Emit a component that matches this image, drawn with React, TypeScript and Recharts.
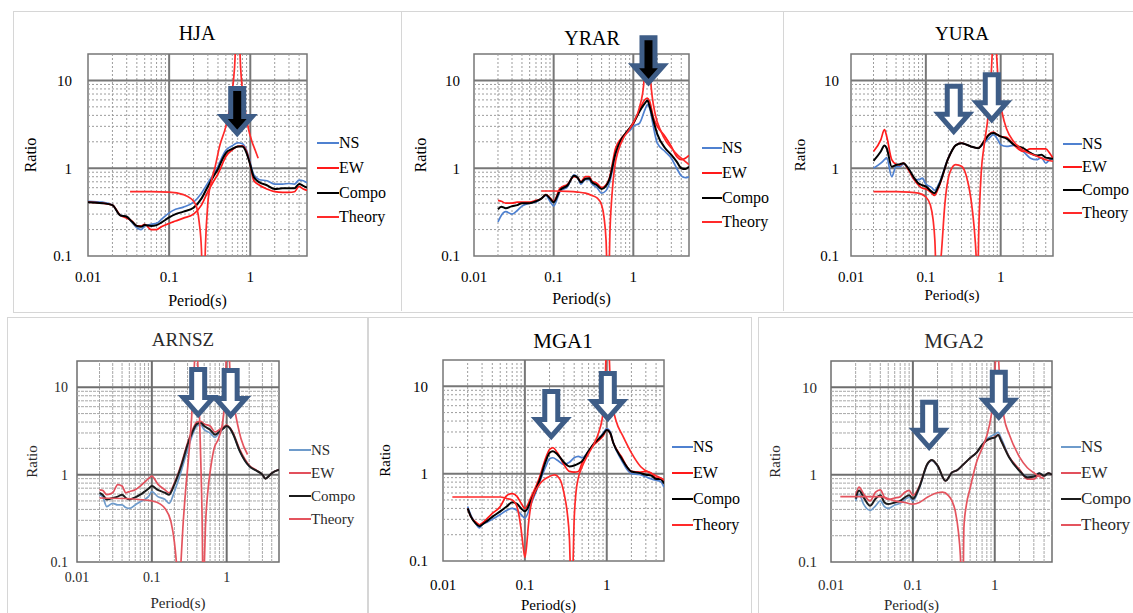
import React from 'react';
import { LineChart, Line, XAxis, YAxis, Legend, ReferenceLine, ReferenceArea, ReferenceDot } from 'recharts';

const PAGE_W = 1133;
const PAGE_H = 613;
const X_AXIS_H = 45;
const FONT = 'Liberation Serif';
const ARROW_BLUE = '#3E5D87';

// axis values shared by all six panels (log-log)
const xDomain = [0.01, 5];
const yDomain = [0.1, 20];
const xTicks = [0.01, 0.1, 1];
const yTicks = [0.1, 1, 10];
const xMajor = [0.1, 1];
const yMajor = [1, 10];
const xMinor = [0.02, 0.03, 0.04, 0.05, 0.06, 0.07, 0.08, 0.09, 0.2, 0.3, 0.4, 0.5, 0.6, 0.7, 0.8, 0.9, 2, 3, 4];
const yMinor = [0.2, 0.3, 0.4, 0.5, 0.6, 0.7, 0.8, 0.9, 2, 3, 4, 5, 6, 7, 8, 9];
const seriesNames = ['NS', 'EW', 'Compo', 'Theory'];

// ---- HJA ----
const hjaPeriod = [0.01, 0.015, 0.02, 0.025, 0.03, 0.035, 0.04, 0.045, 0.05, 0.06, 0.07, 0.08, 0.1, 0.12, 0.15, 0.2, 0.25, 0.3, 0.35, 0.4, 0.45, 0.5, 0.6, 0.7, 0.8, 0.9, 1.0, 1.1, 1.3, 1.6, 2, 2.5, 3, 3.5, 4, 4.5, 5];
const hjaNS = [0.42, 0.41, 0.38, 0.29, 0.28, 0.24, 0.21, 0.2, 0.22, 0.23, 0.235, 0.26, 0.31, 0.34, 0.36, 0.41, 0.52, 0.68, 0.85, 1.05, 1.35, 1.6, 1.8, 1.95, 1.9, 1.6, 1.15, 0.85, 0.74, 0.72, 0.66, 0.66, 0.67, 0.66, 0.73, 0.72, 0.68];
const hjaEW = [0.41, 0.4, 0.38, 0.29, 0.27, 0.25, 0.22, 0.22, 0.23, 0.2, 0.2, 0.215, 0.235, 0.25, 0.27, 0.3, 0.38, 0.54, 0.7, 0.86, 1.1, 1.36, 1.62, 1.77, 1.8, 1.55, 1.09, 0.73, 0.64, 0.58, 0.54, 0.53, 0.53, 0.54, 0.62, 0.58, 0.56];
const hjaCompo = [0.41, 0.4, 0.38, 0.29, 0.28, 0.245, 0.22, 0.215, 0.225, 0.22, 0.225, 0.24, 0.275, 0.3, 0.32, 0.355, 0.45, 0.62, 0.8, 0.98, 1.25, 1.49, 1.66, 1.77, 1.77, 1.49, 1.09, 0.8, 0.69, 0.64, 0.58, 0.59, 0.59, 0.59, 0.66, 0.63, 0.6];
const hjaTheoryPeriod = [0.033, 0.06, 0.1, 0.15, 0.18, 0.2, 0.22, 0.235, 0.25, 0.26, 0.27, 0.28, 0.3, 0.33, 0.37, 0.42, 0.5, 0.58, 0.64, 0.68, 0.72, 0.76, 0.85, 0.95, 1.05, 1.15, 1.25];
const hjaTheory = [0.54, 0.54, 0.535, 0.5, 0.46, 0.42, 0.35, 0.24, 0.12, 0.04, 0.04, 0.13, 0.4, 0.7, 1.05, 1.8, 3.0, 6, 14, 40, 40, 14, 5, 2.8, 2.0, 1.6, 1.3];
const hjaArrows = [{ x: 0.69, y: 2.3 }];

// ---- YRAR ----
const yrarPeriod = [0.02, 0.022, 0.025, 0.03, 0.035, 0.04, 0.05, 0.06, 0.07, 0.08, 0.09, 0.1, 0.12, 0.15, 0.18, 0.2, 0.22, 0.25, 0.28, 0.3, 0.35, 0.4, 0.45, 0.5, 0.6, 0.7, 0.8, 0.9, 1, 1.2, 1.4, 1.5, 1.6, 1.8, 2, 2.5, 3, 3.5, 4, 4.5, 5];
const yrarNS = [0.245, 0.29, 0.32, 0.3, 0.33, 0.37, 0.4, 0.41, 0.45, 0.49, 0.42, 0.37, 0.54, 0.62, 0.84, 0.78, 0.66, 0.74, 0.74, 0.67, 0.6, 0.52, 0.55, 0.67, 1.42, 2.02, 2.45, 2.67, 3.0, 3.27, 4.65, 5.3, 4.86, 2.87, 1.93, 1.55, 1.3, 1.0, 0.82, 0.78, 0.8];
const yrarEW = [0.43, 0.42, 0.4, 0.4, 0.41, 0.41, 0.41, 0.43, 0.45, 0.5, 0.46, 0.42, 0.59, 0.66, 0.8, 0.78, 0.7, 0.8, 0.8, 0.72, 0.67, 0.6, 0.64, 0.77, 1.7, 2.17, 2.5, 2.82, 3.2, 4.65, 6.06, 6.3, 5.8, 3.7, 3.0, 2.3, 1.77, 1.36, 1.25, 1.3, 1.4];
const yrarCompo = [0.34, 0.365, 0.35, 0.37, 0.38, 0.4, 0.4, 0.42, 0.45, 0.5, 0.45, 0.41, 0.56, 0.64, 0.82, 0.78, 0.69, 0.76, 0.77, 0.7, 0.64, 0.58, 0.62, 0.74, 1.49, 2.1, 2.5, 2.87, 3.27, 4.46, 5.5, 5.9, 5.1, 3.4, 2.45, 1.7, 1.42, 1.19, 1.0, 0.98, 1.04];
const yrarTheoryPeriod = [0.07, 0.1, 0.15, 0.2, 0.25, 0.3, 0.35, 0.4, 0.43, 0.455, 0.475, 0.49, 0.51, 0.54, 0.58, 0.65, 0.75, 0.85, 1.0, 1.2, 1.35, 1.45, 1.55, 1.65, 1.9, 2.2, 2.6, 3, 3.5, 4, 5];
const yrarTheory = [0.55, 0.55, 0.545, 0.535, 0.52, 0.49, 0.46, 0.38, 0.27, 0.15, 0.05, 0.05, 0.2, 0.5, 1.0, 1.6, 2.2, 2.6, 3.3, 5, 9, 30, 30, 10, 4, 2.7, 2.0, 1.7, 1.45, 1.3, 1.1];
const yrarArrows = [{ x: 1.55, y: 8.7 }];

// ---- YURA ----
const yuraPeriod = [0.02, 0.025, 0.028, 0.03, 0.035, 0.04, 0.045, 0.05, 0.06, 0.07, 0.08, 0.09, 0.1, 0.12, 0.13, 0.15, 0.2, 0.25, 0.3, 0.35, 0.4, 0.5, 0.6, 0.7, 0.8, 0.9, 1, 1.2, 1.5, 2, 2.5, 3, 3.5, 4, 4.5, 5];
const yuraNS = [1.0, 1.14, 1.25, 1.32, 0.8, 1.04, 1.04, 1.11, 0.96, 0.74, 0.74, 0.77, 0.66, 0.6, 0.56, 0.67, 1.32, 1.82, 1.93, 1.85, 1.77, 1.69, 1.93, 2.2, 2.41, 2.17, 1.85, 1.77, 1.82, 1.55, 1.3, 1.25, 1.32, 1.14, 1.25, 1.28];
const yuraEW = [1.55, 2.1, 2.75, 2.3, 1.25, 1.11, 1.09, 1.14, 0.92, 0.74, 0.64, 0.59, 0.58, 0.52, 0.49, 0.62, 1.3, 1.82, 1.93, 1.85, 1.77, 1.69, 2.05, 2.45, 2.58, 2.41, 2.3, 2.25, 1.85, 1.55, 1.66, 1.66, 1.66, 1.66, 1.49, 1.3];
const yuraCompo = [1.21, 1.55, 1.82, 1.69, 1.04, 1.09, 1.11, 1.14, 0.96, 0.77, 0.67, 0.64, 0.62, 0.54, 0.52, 0.64, 1.3, 1.82, 1.93, 1.85, 1.77, 1.69, 2.02, 2.41, 2.52, 2.41, 2.3, 2.17, 1.85, 1.69, 1.49, 1.4, 1.42, 1.32, 1.3, 1.28];
const yuraTheoryPeriod = [0.02, 0.04, 0.06, 0.08, 0.1, 0.115, 0.125, 0.132, 0.138, 0.15, 0.16, 0.18, 0.21, 0.25, 0.3, 0.35, 0.4, 0.44, 0.47, 0.49, 0.51, 0.55, 0.6, 0.68, 0.74, 0.78, 0.82, 0.88, 0.95, 1.05, 1.2, 1.5, 2, 3, 4, 5];
const yuraTheory = [0.54, 0.54, 0.535, 0.52, 0.47, 0.38, 0.26, 0.15, 0.06, 0.06, 0.1, 0.4, 0.9, 1.1, 1.05, 0.8, 0.45, 0.22, 0.1, 0.04, 0.2, 0.9, 1.8, 4, 10, 25, 50, 20, 7, 4.2, 2.8, 2.0, 1.6, 1.38, 1.25, 1.2];
const yuraArrows = [{ x: 0.236, y: 2.43 }, { x: 0.76, y: 3.3 }];

// ---- ARNSZ ----
const arnszPeriod = [0.02, 0.022, 0.025, 0.03, 0.035, 0.04, 0.045, 0.05, 0.06, 0.07, 0.08, 0.09, 0.1, 0.12, 0.15, 0.17, 0.2, 0.25, 0.3, 0.35, 0.4, 0.45, 0.5, 0.6, 0.7, 0.8, 0.9, 1, 1.1, 1.2, 1.5, 2, 2.5, 3, 3.3, 3.5, 4, 5];
const arnszNS = [0.59, 0.56, 0.43, 0.47, 0.45, 0.45, 0.42, 0.41, 0.45, 0.49, 0.52, 0.56, 0.64, 0.56, 0.52, 0.47, 0.64, 1.14, 1.93, 2.87, 3.6, 3.7, 3.27, 3.0, 2.67, 3.05, 3.35, 3.6, 3.4, 3.0, 1.85, 1.25, 1.11, 1.0, 0.9, 0.93, 1.04, 1.14];
const arnszEW = [0.67, 0.66, 0.59, 0.62, 0.77, 0.74, 0.62, 0.64, 0.67, 0.74, 0.82, 0.9, 0.96, 0.78, 0.67, 0.62, 0.8, 1.36, 2.3, 3.27, 4.0, 4.07, 3.8, 3.6, 3.08, 3.27, 3.5, 3.7, 3.45, 3.08, 1.93, 1.28, 1.12, 1.0, 0.9, 0.93, 1.04, 1.14];
const arnszCompo = [0.62, 0.59, 0.52, 0.54, 0.56, 0.59, 0.54, 0.52, 0.55, 0.59, 0.64, 0.69, 0.74, 0.67, 0.62, 0.59, 0.77, 1.3, 2.2, 3.1, 3.8, 3.9, 3.6, 3.27, 2.87, 3.1, 3.37, 3.6, 3.4, 3.0, 1.85, 1.25, 1.11, 1.0, 0.9, 0.93, 1.04, 1.14];
const arnszTheoryPeriod = [0.02, 0.05, 0.1, 0.13, 0.15, 0.18, 0.2, 0.215, 0.23, 0.245, 0.26, 0.28, 0.31, 0.34, 0.37, 0.39, 0.41, 0.43, 0.45, 0.47, 0.485, 0.5, 0.52, 0.56, 0.62, 0.68, 0.78, 0.9, 0.96, 1.0, 1.06, 1.12, 1.27, 1.55, 1.9];
const arnszTheory = [0.54, 0.53, 0.5, 0.46, 0.41, 0.29, 0.17, 0.09, 0.04, 0.1, 0.25, 0.6, 1.6, 4.5, 18, 40, 20, 6, 1.5, 0.3, 0.04, 0.08, 0.25, 0.64, 1.3, 2.0, 2.6, 4.5, 9, 30, 30, 12, 5.8, 2.6, 1.7];
const arnszArrows = [{ x: 0.416, y: 4.5 }, { x: 1.13, y: 4.4 }];

// ---- MGA1 ----
const mga1Period = [0.02, 0.022, 0.025, 0.028, 0.03, 0.035, 0.04, 0.05, 0.06, 0.07, 0.08, 0.09, 0.1, 0.12, 0.15, 0.18, 0.2, 0.22, 0.25, 0.3, 0.35, 0.4, 0.45, 0.5, 0.6, 0.7, 0.8, 0.9, 1, 1.1, 1.2, 1.5, 2, 2.5, 3, 3.5, 4, 4.5, 5];
const mga1NS = [0.42, 0.33, 0.27, 0.24, 0.26, 0.28, 0.3, 0.34, 0.38, 0.4, 0.38, 0.34, 0.31, 0.46, 0.78, 1.21, 1.48, 1.52, 1.42, 1.27, 1.35, 1.52, 1.58, 1.52, 1.81, 2.22, 2.51, 2.89, 3.27, 3.0, 2.26, 1.45, 1.0, 0.98, 0.92, 0.87, 0.84, 0.82, 0.7];
const mga1EW = [0.4, 0.32, 0.28, 0.26, 0.27, 0.31, 0.35, 0.42, 0.56, 0.59, 0.55, 0.46, 0.4, 0.55, 0.89, 1.52, 1.89, 1.98, 1.73, 1.27, 1.06, 1.04, 1.06, 1.33, 1.81, 2.15, 2.4, 2.7, 3.16, 2.9, 2.26, 1.58, 1.06, 1.04, 1.06, 1.02, 0.89, 0.89, 0.84];
const mga1Compo = [0.4, 0.32, 0.27, 0.25, 0.26, 0.29, 0.32, 0.37, 0.42, 0.47, 0.45, 0.4, 0.37, 0.5, 0.82, 1.39, 1.73, 1.81, 1.66, 1.35, 1.21, 1.24, 1.3, 1.39, 1.81, 2.22, 2.51, 2.82, 3.16, 2.94, 2.26, 1.52, 1.06, 1.02, 0.97, 0.95, 0.87, 0.87, 0.77];
const mga1TheoryPeriod = [0.013, 0.03, 0.05, 0.06, 0.07, 0.08, 0.09, 0.095, 0.1, 0.105, 0.11, 0.12, 0.15, 0.2, 0.23, 0.27, 0.3, 0.33, 0.35, 0.365, 0.38, 0.4, 0.42, 0.45, 0.5, 0.6, 0.7, 0.8, 0.9, 0.95, 1.0, 1.05, 1.1, 1.2, 1.3, 1.57, 2, 2.6, 3.8, 5];
const mga1Theory = [0.54, 0.54, 0.54, 0.52, 0.5, 0.42, 0.23, 0.15, 0.11, 0.15, 0.25, 0.46, 0.75, 0.93, 0.97, 0.85, 0.6, 0.35, 0.18, 0.06, 0.06, 0.3, 0.6, 0.9, 1.2, 1.7, 2.2, 3, 5, 10, 30, 30, 12, 5.5, 4, 2.7, 1.73, 1.2, 0.97, 0.85];
const mga1Arrows = [{ x: 0.21, y: 2.46 }, { x: 1.03, y: 3.96 }];

// ---- MGA2 ----
const mga2Period = [0.02, 0.022, 0.025, 0.03, 0.035, 0.04, 0.045, 0.05, 0.06, 0.07, 0.08, 0.09, 0.1, 0.12, 0.15, 0.17, 0.2, 0.25, 0.3, 0.35, 0.4, 0.5, 0.6, 0.7, 0.8, 0.9, 1, 1.1, 1.2, 1.5, 2, 2.5, 3, 3.5, 4, 4.5, 5];
const mga2NS = [0.5, 0.6, 0.46, 0.39, 0.44, 0.5, 0.43, 0.41, 0.45, 0.47, 0.52, 0.55, 0.5, 0.7, 1.3, 1.45, 1.25, 0.85, 1.06, 1.13, 1.27, 1.55, 1.79, 2.2, 2.55, 2.75, 2.9, 3.05, 2.6, 1.6, 1.11, 0.95, 0.95, 1.04, 0.97, 1.04, 1.0];
const mga2EW = [0.58, 0.72, 0.6, 0.5, 0.63, 0.67, 0.55, 0.52, 0.54, 0.56, 0.63, 0.66, 0.58, 0.74, 1.32, 1.47, 1.27, 0.85, 1.06, 1.13, 1.27, 1.55, 1.79, 2.15, 2.45, 2.6, 2.7, 2.85, 2.43, 1.6, 1.15, 0.89, 0.89, 1.0, 0.97, 1.04, 1.0];
const mga2Compo = [0.53, 0.66, 0.55, 0.44, 0.53, 0.58, 0.48, 0.46, 0.48, 0.5, 0.55, 0.58, 0.53, 0.72, 1.32, 1.47, 1.27, 0.85, 1.06, 1.13, 1.27, 1.55, 1.79, 2.19, 2.48, 2.6, 2.65, 2.85, 2.43, 1.57, 1.11, 0.93, 0.95, 1.04, 0.97, 1.04, 1.0];
const mga2TheoryPeriod = [0.013, 0.04, 0.06, 0.08, 0.1, 0.12, 0.15, 0.2, 0.23, 0.27, 0.3, 0.33, 0.36, 0.38, 0.395, 0.41, 0.42, 0.45, 0.5, 0.6, 0.7, 0.8, 0.9, 0.97, 1.02, 1.08, 1.15, 1.3, 1.5, 2, 2.5, 3, 3.5, 4];
const mga2Theory = [0.56, 0.56, 0.5, 0.48, 0.46, 0.48, 0.55, 0.62, 0.63, 0.58, 0.5, 0.38, 0.22, 0.12, 0.05, 0.05, 0.25, 0.45, 0.7, 1.4, 2.0, 2.8, 4.6, 8, 20, 30, 12, 4.5, 2.9, 1.6, 1.2, 1.05, 0.95, 0.9];
const mga2Arrows = [{ x: 0.158, y: 1.9 }, { x: 1.12, y: 4.2 }];

const pts = (periods: number[], values: number[], key: string) =>
  periods.map((p, i) => ({ p, [key]: values[i] }));

const topStyle = { ns: '#4F81D0', ew: '#FF1A1A', compo: '#000000', theory: '#FF2A2A', text: '#000', minor: '#9C9C9C', major: '#777', dash: '2 2' };
const blurStyle = { ns: '#6E9BCB', ew: '#E2505C', compo: '#1C1C1C', theory: '#E4545E', text: '#2A2A2A', minor: '#A8A8A8', major: '#6E6E6E', dash: '3 1' };

const panels = [
  {
    title: 'HJA', titleX: 197, titleY: 33, titleSize: 20,
    plot: { left: 88, top: 54, right: 307, bottom: 256 },
    tickSize: 15, xTickGap: 15, yTickGap: 16, ratioX: 30, periodDx: 0, periodDy: 44, labelSize: 16,
    legend: { left: 317, top: 131, row: 24.7, line: 22, font: 16 },
    style: topStyle, fill: '#000',
    period: hjaPeriod, ns: hjaNS, ew: hjaEW, compo: hjaCompo, theoryPeriod: hjaTheoryPeriod, theory: hjaTheory, arrows: hjaArrows,
  },
  {
    title: 'YRAR', titleX: 592, titleY: 38, titleSize: 20,
    plot: { left: 474, top: 54, right: 689, bottom: 256 },
    tickSize: 15, xTickGap: 15, yTickGap: 14, ratioX: 420, periodDx: 0, periodDy: 42, labelSize: 16,
    legend: { left: 702, top: 136, row: 24.7, line: 20, font: 16 },
    style: topStyle, fill: '#000',
    period: yrarPeriod, ns: yrarNS, ew: yrarEW, compo: yrarCompo, theoryPeriod: yrarTheoryPeriod, theory: yrarTheory, arrows: yrarArrows,
  },
  {
    title: 'YURA', titleX: 962, titleY: 33, titleSize: 19,
    plot: { left: 851, top: 54, right: 1053, bottom: 256 },
    tickSize: 15, xTickGap: 15, yTickGap: 12, ratioX: 800, periodDx: 0, periodDy: 39, labelSize: 15,
    legend: { left: 1063, top: 132.5, row: 23, line: 19, font: 16 },
    style: topStyle, fill: '#fff',
    period: yuraPeriod, ns: yuraNS, ew: yuraEW, compo: yuraCompo, theoryPeriod: yuraTheoryPeriod, theory: yuraTheory, arrows: yuraArrows,
  },
  {
    title: 'ARNSZ', titleX: 183, titleY: 339, titleSize: 19,
    plot: { left: 77, top: 361, right: 279, bottom: 562 },
    tickSize: 14, xTickGap: 10, yTickGap: 9, ratioX: 32, periodDx: 0, periodDy: 41, labelSize: 15,
    legend: { left: 289, top: 438.5, row: 23, line: 22, font: 15 },
    style: blurStyle, fill: '#fff',
    period: arnszPeriod, ns: arnszNS, ew: arnszEW, compo: arnszCompo, theoryPeriod: arnszTheoryPeriod, theory: arnszTheory, arrows: arnszArrows,
  },
  {
    title: 'MGA1', titleX: 563, titleY: 341, titleSize: 21,
    plot: { left: 443, top: 360, right: 664, bottom: 561 },
    tickSize: 15, xTickGap: 18, yTickGap: 15, ratioX: 385, periodDx: -5, periodDy: 44, labelSize: 15,
    legend: { left: 672, top: 434, row: 26, line: 21, font: 16 },
    style: topStyle, fill: '#fff',
    period: mga1Period, ns: mga1NS, ew: mga1EW, compo: mga1Compo, theoryPeriod: mga1TheoryPeriod, theory: mga1Theory, arrows: mga1Arrows,
  },
  {
    title: 'MGA2', titleX: 954, titleY: 341, titleSize: 21,
    plot: { left: 831, top: 361, right: 1052, bottom: 562 },
    tickSize: 15, xTickGap: 17, yTickGap: 14, ratioX: 775, periodDx: -30, periodDy: 43, labelSize: 15,
    legend: { left: 1061, top: 434, row: 26, line: 20, font: 17 },
    style: blurStyle, fill: '#fff',
    period: mga2Period, ns: mga2NS, ew: mga2EW, compo: mga2Compo, theoryPeriod: mga2TheoryPeriod, theory: mga2Theory, arrows: mga2Arrows,
  },
];

type PanelCfg = (typeof panels)[number];

const arrowShape = (fill: string) => (props: any) => {
  const { cx, cy } = props;
  const shape = [[-6.5, -48], [6.5, -48], [6.5, -20], [15, -20], [0, -3], [-15, -20], [-6.5, -20]];
  const points = shape.map(([dx, dy]) => `${cx + dx},${cy + dy}`).join(' ');
  return <polygon points={points} fill={fill} stroke={ARROW_BLUE} strokeWidth={5} strokeLinejoin="miter" />;
};

const legendContent = (cfg: PanelCfg) => (props: any) => {
  const items = [...(props.payload || [])].sort(
    (a: any, b: any) => seriesNames.indexOf(a.value) - seriesNames.indexOf(b.value)
  );
  return (
    <div style={{ fontFamily: FONT, fontSize: cfg.legend.font, color: cfg.style.text }}>
      {items.map((it: any) => (
        <div key={it.value} style={{ display: 'flex', alignItems: 'center', height: cfg.legend.row, whiteSpace: 'nowrap' }}>
          <span style={{ display: 'inline-block', width: cfg.legend.line, borderTop: `2px solid ${it.color}` }} />
          <span>{it.value}</span>
        </div>
      ))}
    </div>
  );
};

const Panel = ({ cfg }: { cfg: PanelCfg }) => {
  const { plot, style } = cfg;
  const tick = { fontFamily: FONT, fontSize: cfg.tickSize, fill: style.text, style: { fontFamily: FONT } };
  const ratioY = (plot.top + plot.bottom) / 2;
  const periodX = (plot.left + plot.right) / 2 + cfg.periodDx;
  const periodY = plot.bottom + cfg.periodDy;
  const series = [
    { key: 'ns', name: 'NS', data: pts(cfg.period, cfg.ns, 'ns'), color: style.ns, width: 1.7 },
    { key: 'ew', name: 'EW', data: pts(cfg.period, cfg.ew, 'ew'), color: style.ew, width: 1.7 },
    { key: 'compo', name: 'Compo', data: pts(cfg.period, cfg.compo, 'compo'), color: style.compo, width: 2 },
    { key: 'theory', name: 'Theory', data: pts(cfg.theoryPeriod, cfg.theory, 'theory'), color: style.theory, width: 1.7 },
  ];

  return (
    <div style={{ position: 'absolute', left: 0, top: 0 }}>
      <LineChart
        width={PAGE_W}
        height={PAGE_H}
        style={{ fontFamily: FONT }}
        margin={{ top: plot.top, left: 0, right: PAGE_W - plot.right, bottom: PAGE_H - plot.bottom - X_AXIS_H }}
      >
        <XAxis
          dataKey="p"
          type="number"
          scale="log"
          domain={xDomain}
          ticks={xTicks}
          interval={0}
          allowDataOverflow
          axisLine={false}
          tickLine={false}
          tickSize={0}
          tickMargin={cfg.xTickGap}
          height={X_AXIS_H}
          tick={tick}
          tickFormatter={(v: number) => String(v)}
          label={() => (
            <text x={periodX} y={periodY} textAnchor="middle" dominantBaseline="central" style={{ fontFamily: FONT }} fontSize={cfg.labelSize} fill={style.text}>
              Period(s)
            </text>
          )}
        />
        <YAxis
          type="number"
          scale="log"
          domain={yDomain}
          ticks={yTicks}
          interval={0}
          allowDataOverflow
          axisLine={false}
          tickLine={false}
          tickSize={0}
          tickMargin={cfg.yTickGap}
          width={plot.left}
          tick={tick}
          tickFormatter={(v: number) => String(v)}
          label={() => (
            <text x={cfg.ratioX} y={ratioY} transform={`rotate(-90 ${cfg.ratioX} ${ratioY})`} textAnchor="middle" dominantBaseline="central" style={{ fontFamily: FONT }} fontSize={cfg.labelSize} fill={style.text}>
              Ratio
            </text>
          )}
        />
        {xMinor.map((v) => (
          <ReferenceLine key={`xm${v}`} x={v} stroke={style.minor} strokeWidth={1} strokeDasharray={style.dash} />
        ))}
        {yMinor.map((v) => (
          <ReferenceLine key={`ym${v}`} y={v} stroke={style.minor} strokeWidth={1} strokeDasharray={style.dash} />
        ))}
        {xMajor.map((v) => (
          <ReferenceLine key={`xM${v}`} x={v} stroke={style.major} strokeWidth={2} />
        ))}
        {yMajor.map((v) => (
          <ReferenceLine key={`yM${v}`} y={v} stroke={style.major} strokeWidth={2} />
        ))}
        <ReferenceArea x1={xDomain[0]} x2={xDomain[1]} y1={yDomain[0]} y2={yDomain[1]} fill="none" stroke={style.major} strokeWidth={1.5} />
        {series.map((s) => (
          <Line
            key={s.key}
            data={s.data}
            dataKey={s.key}
            name={s.name}
            type="monotone"
            stroke={s.color}
            strokeWidth={s.width}
            dot={false}
            activeDot={false}
            isAnimationActive={false}
          />
        ))}
        {cfg.arrows.map((a, i) => (
          <ReferenceDot key={`a${i}`} x={a.x} y={a.y} r={1} shape={arrowShape(cfg.fill)} />
        ))}
        <Legend
          layout="vertical"
          align="center"
          verticalAlign="middle"
          content={legendContent(cfg)}
          wrapperStyle={{ left: cfg.legend.left, top: cfg.legend.top, width: 'auto' }}
        />
      </LineChart>
    </div>
  );
};

const border = '1px solid #D6D6D6';

export default function App() {
  return (
    <div style={{ position: 'absolute', left: 0, top: 0, width: PAGE_W, height: PAGE_H, overflow: 'hidden', background: '#fff', fontFamily: FONT }}>
      {/* panel frames */}
      <div style={{ position: 'absolute', left: 13, top: 11, width: PAGE_W, height: 300, border }} />
      <div style={{ position: 'absolute', left: 401, top: 11, width: 0, height: 300, borderLeft: border }} />
      <div style={{ position: 'absolute', left: 783, top: 11, width: 0, height: 300, borderLeft: border }} />
      <div style={{ position: 'absolute', left: 7, top: 317, width: 360, height: 320, border }} />
      <div style={{ position: 'absolute', left: 367, top: 317, width: 383, height: 320, border }} />
      <div style={{ position: 'absolute', left: 758, top: 317, width: PAGE_W, height: 320, border }} />
      {panels.map((cfg) => (
        <div
          key={`t${cfg.title}`}
          style={{
            position: 'absolute',
            left: cfg.titleX,
            top: cfg.titleY - cfg.titleSize / 2,
            transform: 'translateX(-50%)',
            fontSize: cfg.titleSize,
            lineHeight: 1,
            color: cfg.style.text,
            whiteSpace: 'nowrap',
          }}
        >
          {cfg.title}
        </div>
      ))}
      {panels.map((cfg) => (
        <Panel key={cfg.title} cfg={cfg} />
      ))}
    </div>
  );
}
